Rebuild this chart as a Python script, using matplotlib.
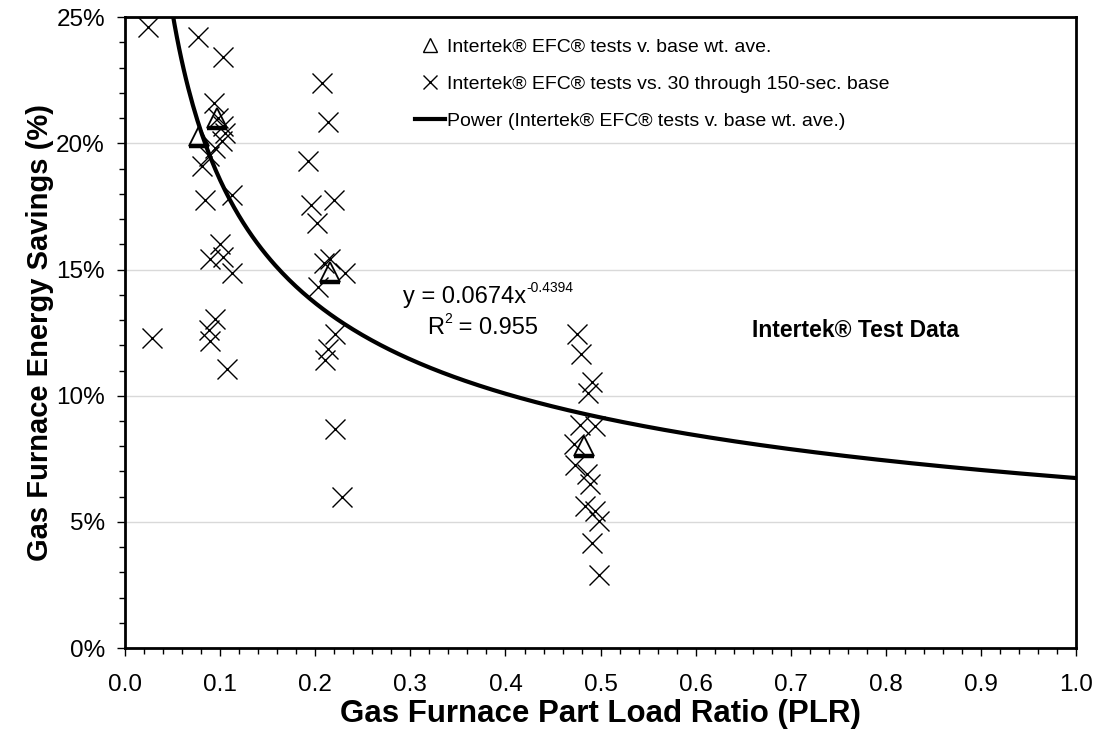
import numpy as np
import matplotlib
matplotlib.use('Agg')
import matplotlib.pyplot as plt
from matplotlib.lines import Line2D
from matplotlib.path import Path
from matplotlib.ticker import MultipleLocator, FuncFormatter

plt.rcParams['font.family'] = ['Liberation Sans', 'DejaVu Sans']

# Intertek EFC tests v. base weighted average (triangles)
plr_avg = [0.078, 0.097, 0.215, 0.483]
sav_avg = [20.3, 21.0, 14.9, 8.0]

# Intertek EFC tests vs. 30 through 150-sec. base (crosses)
plr_x = [0.024, 0.028, 0.077, 0.103, 0.093, 0.098, 0.103, 0.105, 0.102, 0.095,
         0.088, 0.081, 0.084, 0.112, 0.100, 0.089, 0.103, 0.112, 0.095, 0.088,
         0.089, 0.107,
         0.192, 0.207, 0.213, 0.195, 0.220, 0.202, 0.209, 0.216, 0.231, 0.203,
         0.221, 0.213, 0.210, 0.221, 0.228,
         0.475, 0.479, 0.491, 0.487, 0.478, 0.494, 0.472, 0.473, 0.486, 0.489,
         0.484, 0.494, 0.498, 0.491, 0.498]
sav_x = [24.6, 12.3, 24.2, 23.4, 21.6, 21.0, 20.7, 20.4, 20.1, 19.8,
         19.5, 19.1, 17.75, 17.95, 16.0, 15.4, 15.5, 14.85, 13.05, 12.6,
         12.15, 11.05,
         19.3, 22.4, 20.85, 17.55, 17.75, 16.85, 15.25, 15.4, 14.85, 14.3,
         12.45, 11.85, 11.4, 8.7, 6.0,
         12.45, 11.65, 10.55, 10.1, 8.85, 8.8, 8.1, 7.25, 6.9, 6.5,
         5.65, 5.45, 5.05, 4.15, 2.9]

# power trendline shown on chart: y = 0.0674 x^-0.4394
coef_a = 0.0674
coef_b = -0.4394

fig = plt.figure(figsize=(10.97, 7.4), dpi=100)
ax = fig.add_axes([0.114, 0.124, 0.867, 0.853])

ax.yaxis.grid(True, color='#d9d9d9', lw=1)
ax.set_axisbelow(True)

xs = np.linspace(0.04, 1.0, 400)
ax.plot(xs, 100 * coef_a * xs ** coef_b, color='black', lw=3, zorder=3)

ax.plot(plr_x, sav_x, ls='none', marker='x', ms=14, mew=1.0,
        color='black', zorder=4)
ax.plot(plr_avg, sav_avg, ls='none', marker='^', ms=14, mew=1.3,
        mfc='none', mec='black', zorder=5)
# thick base line of the triangle markers
base = Path([(-1, -1), (1, -1)])
ax.plot(plr_avg, sav_avg, ls='none', marker=base, ms=14, mew=3.2,
        mec='black', zorder=5)

ax.set_xlim(0, 1.0)
ax.set_ylim(0, 25)
ax.xaxis.set_major_locator(MultipleLocator(0.1))
ax.xaxis.set_minor_locator(MultipleLocator(0.02))
ax.yaxis.set_major_locator(MultipleLocator(5))
ax.yaxis.set_minor_locator(MultipleLocator(1))
ax.xaxis.set_major_formatter(FuncFormatter(lambda v, p: f'{v:.1f}'))
ax.yaxis.set_major_formatter(FuncFormatter(lambda v, p: f'{v:.0f}%'))
ax.tick_params(which='major', direction='out', length=5.5, width=1,
               labelsize=17.5)
ax.tick_params(which='minor', direction='out', length=4, width=1)
ax.tick_params(axis='x', which='major', pad=13)
ax.tick_params(axis='y', which='major', pad=9)

for s in ax.spines.values():
    s.set_linewidth(2)
    s.set_color('black')

ax.set_xlabel('Gas Furnace Part Load Ratio (PLR)', fontsize=22.5,
              fontweight='bold', labelpad=2)
ax.set_ylabel('Gas Furnace Energy Savings (%)', fontsize=21,
              fontweight='bold', labelpad=1.5)

# equation and R^2 of the power trendline
eq = ax.text(0.292, 13.9, 'y = 0.0674x', fontsize=17, va='center')
ax.annotate('-0.4394', xy=(1, 0.9), xycoords=eq, fontsize=10,
            ha='left', va='center')
r2 = ax.text(0.318, 12.7, 'R', fontsize=17, va='center')
r2s = ax.annotate('2', xy=(1, 0.9), xycoords=r2, fontsize=10,
                  ha='left', va='center')
ax.annotate(' = 0.955', xy=(1, 0.5), xycoords=(r2s, r2), fontsize=17,
            ha='left', va='center', annotation_clip=False)
ax.text(0.6595, 12.6, 'Intertek® Test Data', fontsize=16.5,
        fontweight='bold', va='center')

handles = [
    Line2D([], [], ls='none', marker='^', ms=10, mew=1, mfc='none', mec='black'),
    Line2D([], [], ls='none', marker='x', ms=10, mew=1, color='black'),
    Line2D([], [], color='black', lw=3),
]
labels = ['Intertek® EFC® tests v. base wt. ave.',
          'Intertek® EFC® tests vs. 30 through 150-sec. base',
          'Power (Intertek® EFC® tests v. base wt. ave.)']
ax.legend(handles, labels, loc='upper left', bbox_to_anchor=(0.305, 0.966),
          frameon=False, fontsize=14, borderpad=0, borderaxespad=0,
          handlelength=1.55, handletextpad=0.1, labelspacing=1.0)

fig.savefig('out.png', dpi=100)
